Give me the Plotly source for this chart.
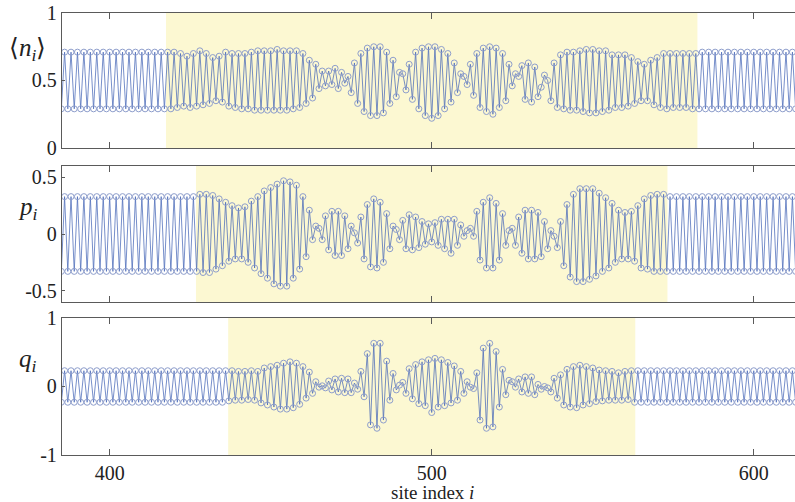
import plotly.graph_objects as go

# site indices (x categories)
sites = list(range(385, 614))

# <n_i> values, sites 385..613 (rows of 10)
n_vals = [
    0.29, 0.71, 0.29, 0.71, 0.29, 0.71, 0.29, 0.71, 0.29, 0.71,
    0.29, 0.71, 0.29, 0.71, 0.29, 0.71, 0.29, 0.71, 0.29, 0.71,
    0.29, 0.71, 0.29, 0.71, 0.29, 0.71, 0.29, 0.71, 0.29, 0.71,
    0.29, 0.71, 0.29, 0.71, 0.29, 0.71, 0.30, 0.70, 0.31, 0.68,
    0.30, 0.70, 0.31, 0.72, 0.32, 0.70, 0.33, 0.67, 0.35, 0.68,
    0.34, 0.71, 0.31, 0.70, 0.30, 0.70, 0.29, 0.70, 0.29, 0.71,
    0.28, 0.72, 0.28, 0.72, 0.28, 0.72, 0.28, 0.73, 0.28, 0.72,
    0.28, 0.72, 0.29, 0.72, 0.30, 0.70, 0.33, 0.65, 0.37, 0.62,
    0.44, 0.57, 0.46, 0.57, 0.47, 0.59, 0.44, 0.56, 0.48, 0.53,
    0.41, 0.63, 0.33, 0.70, 0.27, 0.74, 0.24, 0.75, 0.24, 0.75,
    0.26, 0.71, 0.33, 0.65, 0.38, 0.56, 0.55, 0.43, 0.62, 0.36,
    0.71, 0.29, 0.74, 0.24, 0.75, 0.22, 0.75, 0.24, 0.73, 0.29,
    0.70, 0.34, 0.63, 0.41, 0.55, 0.53, 0.47, 0.62, 0.39, 0.70,
    0.30, 0.74, 0.27, 0.75, 0.25, 0.74, 0.30, 0.70, 0.35, 0.62,
    0.46, 0.55, 0.53, 0.61, 0.36, 0.63, 0.34, 0.60, 0.38, 0.45,
    0.54, 0.50, 0.35, 0.63, 0.30, 0.69, 0.29, 0.71, 0.28, 0.71,
    0.28, 0.72, 0.27, 0.73, 0.26, 0.73, 0.26, 0.72, 0.27, 0.72,
    0.28, 0.69, 0.30, 0.69, 0.30, 0.69, 0.31, 0.67, 0.33, 0.64,
    0.35, 0.62, 0.35, 0.65, 0.32, 0.67, 0.30, 0.70, 0.29, 0.70,
    0.30, 0.70, 0.30, 0.70, 0.30, 0.70, 0.29, 0.70, 0.29, 0.71,
    0.29, 0.71, 0.29, 0.71, 0.29, 0.71, 0.29, 0.71, 0.29, 0.71,
    0.29, 0.71, 0.29, 0.71, 0.29, 0.71, 0.29, 0.71, 0.29, 0.71,
    0.29, 0.71, 0.29, 0.71, 0.29, 0.71, 0.29, 0.71, 0.29,
]

# p_i values, sites 385..613
p_vals = [
    -0.33, 0.33, -0.33, 0.33, -0.33, 0.33, -0.33, 0.33, -0.33, 0.33,
    -0.33, 0.33, -0.33, 0.33, -0.33, 0.33, -0.33, 0.33, -0.33, 0.33,
    -0.33, 0.33, -0.33, 0.33, -0.33, 0.33, -0.33, 0.33, -0.33, 0.33,
    -0.33, 0.33, -0.33, 0.33, -0.33, 0.33, -0.33, 0.33, -0.33, 0.33,
    -0.33, 0.33, -0.33, 0.35, -0.34, 0.35, -0.34, 0.34, -0.31, 0.31,
    -0.28, 0.28, -0.24, 0.25, -0.22, 0.23, -0.22, 0.24, -0.25, 0.29,
    -0.30, 0.33, -0.35, 0.38, -0.39, 0.41, -0.44, 0.44, -0.46, 0.47,
    -0.46, 0.46, -0.39, 0.43, -0.31, 0.33, -0.20, 0.21, -0.05, 0.07,
    0.05, -0.05, 0.16, -0.14, 0.20, -0.19, 0.20, -0.19, 0.16, -0.13,
    0.07, 0.01, -0.08, 0.15, -0.22, 0.26, -0.29, 0.31, -0.30, 0.28,
    -0.25, 0.18, -0.13, 0.07, 0.04, -0.05, 0.12, -0.13, 0.17, -0.14,
    0.15, -0.12, 0.11, -0.09, 0.09, -0.07, 0.10, -0.10, 0.13, -0.13,
    0.13, -0.17, 0.13, -0.10, 0.08, -0.02, 0.03, 0.05, -0.02, 0.20,
    -0.23, 0.28, -0.30, 0.32, -0.30, 0.27, -0.23, 0.18, -0.10, 0.03,
    0.05, -0.10, 0.15, -0.17, 0.21, -0.22, 0.21, -0.22, 0.19, -0.20,
    0.11, -0.13, 0.03, -0.02, -0.12, 0.11, -0.28, 0.26, -0.38, 0.35,
    -0.42, 0.40, -0.42, 0.40, -0.40, 0.40, -0.37, 0.36, -0.33, 0.32,
    -0.30, 0.27, -0.25, 0.21, -0.22, 0.19, -0.22, 0.20, -0.24, 0.25,
    -0.30, 0.31, -0.31, 0.34, -0.33, 0.35, -0.33, 0.35, -0.33, 0.33,
    -0.33, 0.33, -0.33, 0.33, -0.33, 0.33, -0.33, 0.33, -0.33, 0.33,
    -0.33, 0.33, -0.33, 0.33, -0.33, 0.33, -0.33, 0.33, -0.33, 0.33,
    -0.33, 0.33, -0.33, 0.33, -0.33, 0.33, -0.33, 0.33, -0.33, 0.33,
    -0.33, 0.33, -0.33, 0.33, -0.33, 0.33, -0.33, 0.33, -0.33,
]

# q_i values, sites 385..613
q_vals = [
    -0.23, 0.23, -0.23, 0.23, -0.23, 0.23, -0.23, 0.23, -0.23, 0.23,
    -0.23, 0.23, -0.23, 0.23, -0.23, 0.23, -0.23, 0.23, -0.23, 0.23,
    -0.23, 0.23, -0.23, 0.23, -0.23, 0.23, -0.23, 0.23, -0.23, 0.23,
    -0.23, 0.23, -0.23, 0.23, -0.23, 0.23, -0.23, 0.23, -0.23, 0.23,
    -0.23, 0.23, -0.23, 0.23, -0.23, 0.23, -0.23, 0.23, -0.23, 0.23,
    -0.23, 0.23, -0.21, 0.23, -0.20, 0.22, -0.20, 0.22, -0.19, 0.23,
    -0.20, 0.22, -0.24, 0.27, -0.27, 0.29, -0.30, 0.31, -0.33, 0.34,
    -0.33, 0.36, -0.31, 0.34, -0.26, 0.29, -0.17, 0.21, -0.10, 0.07,
    -0.01, 0.01, -0.02, 0.08, -0.05, 0.11, -0.08, 0.12, -0.09, 0.11,
    -0.09, 0.05, -0.04, 0.22, -0.15, 0.48, -0.56, 0.63, -0.61, 0.63,
    -0.49, 0.37, -0.20, 0.19, -0.05, 0.02, 0.06, -0.10, 0.26, -0.18,
    0.32, -0.25, 0.36, -0.28, 0.39, -0.38, 0.41, -0.30, 0.39, -0.28,
    0.35, -0.24, 0.30, -0.20, 0.22, -0.10, 0.07, -0.01, -0.03, 0.20,
    -0.49, 0.56, -0.61, 0.63, -0.59, 0.51, -0.30, 0.25, -0.12, 0.09,
    0.07, -0.01, 0.11, -0.08, 0.14, -0.10, 0.14, -0.12, 0.03, -0.04,
    0.00, -0.02, -0.08, 0.12, -0.17, 0.17, -0.27, 0.25, -0.30, 0.29,
    -0.31, 0.31, -0.27, 0.29, -0.25, 0.27, -0.22, 0.24, -0.21, 0.23,
    -0.20, 0.22, -0.20, 0.20, -0.20, 0.22, -0.19, 0.23, -0.23, 0.23,
    -0.23, 0.23, -0.23, 0.23, -0.23, 0.23, -0.23, 0.23, -0.23, 0.23,
    -0.23, 0.23, -0.23, 0.23, -0.23, 0.23, -0.23, 0.23, -0.23, 0.23,
    -0.23, 0.23, -0.23, 0.23, -0.23, 0.23, -0.23, 0.23, -0.23, 0.23,
    -0.23, 0.23, -0.23, 0.23, -0.23, 0.23, -0.23, 0.23, -0.23, 0.23,
    -0.23, 0.23, -0.23, 0.23, -0.23, 0.23, -0.23, 0.23, -0.23,
]

# shaded site ranges per panel
shade_n = [417.5, 582.5]
shade_p = [426.8, 573.2]
shade_q = [436.8, 563.2]

x_ticks = [400, 500, 600]
x_tick_labels = ["400", "500", "600"]
n_ticks = [0, 0.5, 1]
n_tick_labels = ["0", "0.5", "1"]
p_ticks = [-0.5, 0, 0.5]
p_tick_labels = ["-0.5", "0", "0.5"]
q_ticks = [-1, 0, 1]
q_tick_labels = ["-1", "0", "1"]

assert len(n_vals) == len(sites) == len(p_vals) == len(q_vals)

SERIF = "serif"
LINE_C = "#4a69b8"
MARK_C = "#8e9ecc"
AX_C = "#5a5a5a"
SHADE_C = "#fcf8d2"

fig = go.Figure()
panels = [
    (n_vals, "x", "y"),
    (p_vals, "x2", "y2"),
    (q_vals, "x3", "y3"),
]
for vals, xa, ya in panels:
    fig.add_trace(go.Scatter(
        x=sites, y=vals, mode="lines+markers",
        line=dict(color=LINE_C, width=0.75),
        marker=dict(symbol="circle-open", size=6, color=MARK_C,
                    line=dict(width=1)),
        xaxis=xa, yaxis=ya, showlegend=False, hoverinfo="x+y",
    ))

xrange = [385.2, 612.8]
domains = [[0.6946, 1.0], [0.3462, 0.6538], [0.0, 0.31]]

def xaxis_cfg(show_labels):
    return dict(
        range=xrange, showline=True, linecolor=AX_C, linewidth=1.3,
        mirror="ticks", ticks="inside", ticklen=6, tickwidth=1.2,
        tickcolor=AX_C, tickvals=x_ticks, ticktext=x_tick_labels,
        showticklabels=show_labels, showgrid=False, zeroline=False,
        tickfont=dict(family=SERIF, size=20, color="#222"),
    )

def yaxis_cfg(rng, tv, tt, dom, anchor):
    return dict(
        range=rng, domain=dom, anchor=anchor, showline=True,
        linecolor=AX_C, linewidth=1.3, mirror=False, ticks="inside",
        ticklen=3, tickwidth=1.2, tickcolor=AX_C, tickvals=tv, ticktext=tt,
        showgrid=False, zeroline=False,
        tickfont=dict(family=SERIF, size=20, color="#222"),
    )

fig.update_layout(
    width=795, height=502,
    margin=dict(l=62, r=0, t=13, b=47),
    paper_bgcolor="white", plot_bgcolor="white",
    font=dict(family=SERIF),
    xaxis=dict(xaxis_cfg(False), anchor="y"),
    xaxis2=dict(xaxis_cfg(False), anchor="y2", matches="x"),
    xaxis3=dict(xaxis_cfg(True), anchor="y3", matches="x"),
    yaxis=yaxis_cfg([0, 1], n_ticks, n_tick_labels, domains[0], "x"),
    yaxis2=yaxis_cfg([-0.6, 0.6], p_ticks, p_tick_labels, domains[1], "x2"),
    yaxis3=yaxis_cfg([-1, 1], q_ticks, q_tick_labels, domains[2], "x3"),
)

for (x0, x1), xr, yr in [(shade_n, "x", "y domain"),
                         (shade_p, "x2", "y2 domain"),
                         (shade_q, "x3", "y3 domain")]:
    fig.add_shape(type="rect", xref=xr, yref=yr, x0=x0, x1=x1, y0=0, y1=1,
                  fillcolor=SHADE_C, line=dict(width=0), layer="below")

lab_font = dict(family=SERIF, size=25, color="#222")
fig.add_annotation(xref="paper", yref="paper", x=-0.0464, y=0.9163,
                   text="⟨<i>n</i><sub><i>i</i></sub>⟩", showarrow=False,
                   font=lab_font, xanchor="center", yanchor="middle")
fig.add_annotation(xref="paper", yref="paper", x=-0.0464, y=0.5588,
                   text="<i>p</i><sub><i>i</i></sub>", showarrow=False,
                   font=lab_font, xanchor="center", yanchor="middle")
fig.add_annotation(xref="paper", yref="paper", x=-0.0464, y=0.2149,
                   text="<i>q</i><sub><i>i</i></sub>", showarrow=False,
                   font=lab_font, xanchor="center", yanchor="middle")
fig.add_annotation(xref="paper", yref="paper", x=0.5048, y=-0.0855,
                   text="site index <i>i</i>", showarrow=False,
                   font=dict(family=SERIF, size=19, color="#222"),
                   xanchor="center", yanchor="middle")

fig.write_html("out.html",
               config={"displayModeBar": False},
               post_script="document.body.style.margin='0';"
                           "document.body.style.padding='0';"
                           "document.body.style.overflow='hidden';")
